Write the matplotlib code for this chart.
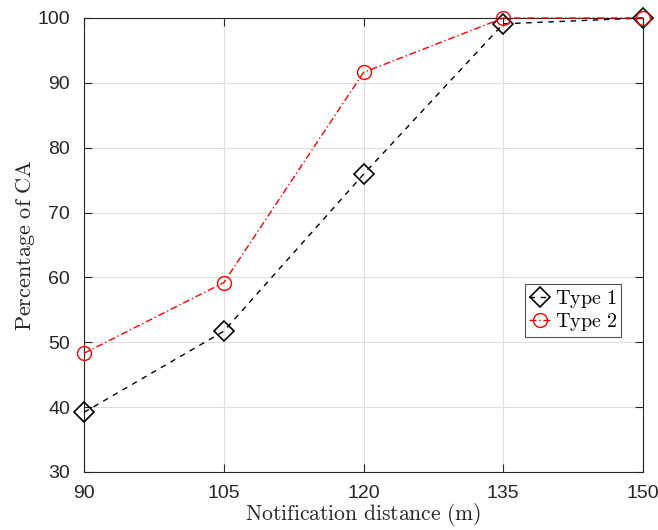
import matplotlib
matplotlib.use("Agg")
import matplotlib.pyplot as plt

plt.rcParams['mathtext.fontset'] = 'cm'

x_vals = [90, 105, 120, 135, 150]
type1 = [39.2, 51.7, 75.9, 99.1, 100.0]
type2 = [48.3, 59.2, 91.6, 100.0, 100.0]
x_ticks = [90, 105, 120, 135, 150]
y_ticks = [30, 40, 50, 60, 70, 80, 90, 100]
series_labels = [r'$\mathrm{Type\ 1}$', r'$\mathrm{Type\ 2}$']

fig = plt.figure(figsize=(6.58, 5.30), dpi=100)
ax = fig.add_axes([84/658, 58/530, (643-84)/658, (472-18)/530])

ax.plot(x_vals, type1, linestyle=(0, (4, 4)), color='black', lw=1.0,
        marker='D', markersize=10, markerfacecolor='none', markeredgecolor='black',
        markeredgewidth=1.2, label=series_labels[0], clip_on=False, zorder=3)
ax.plot(x_vals, type2, linestyle=(0, (5, 2, 1, 2)), color='red', lw=1.0,
        marker='o', markersize=10, markerfacecolor='none', markeredgecolor='red',
        markeredgewidth=1.0, label=series_labels[1], clip_on=False, zorder=3)

ax.set_xlim(90, 150)
ax.set_ylim(30, 100)
ax.set_xticks(x_ticks)
ax.set_yticks(y_ticks)
ax.grid(True, color='#dfdfdf', lw=0.8)
ax.set_axisbelow(True)
for s in ax.spines.values():
    s.set_color('#262626')
    s.set_linewidth(0.8)
ax.tick_params(direction='in', top=True, right=True, length=6, width=0.8,
               colors='#262626', labelsize=14)
ax.tick_params(axis='x', pad=9)
ax.tick_params(axis='y', pad=10)
for lab in ax.get_xticklabels() + ax.get_yticklabels():
    lab.set_fontfamily('Liberation Sans')

ax.set_xlabel(r'$\mathrm{Notification\ distance\ (m)}$', fontsize=15.6, color='#262626', labelpad=0)
ax.set_ylabel(r'$\mathrm{Percentage\ of\ CA}$', fontsize=16, color='#262626', labelpad=0)

leg = ax.legend(loc='upper left', bbox_to_anchor=((525-84)/559, 1-(284-18)/454),
                prop={'size': 14.5},
                frameon=True, fancybox=False, edgecolor='#262626',
                handlelength=1.1, handletextpad=0.2, borderpad=0.2, labelspacing=0.05,
                borderaxespad=0)
leg.get_frame().set_linewidth(0.8)

fig.savefig('out.png', dpi=100)
